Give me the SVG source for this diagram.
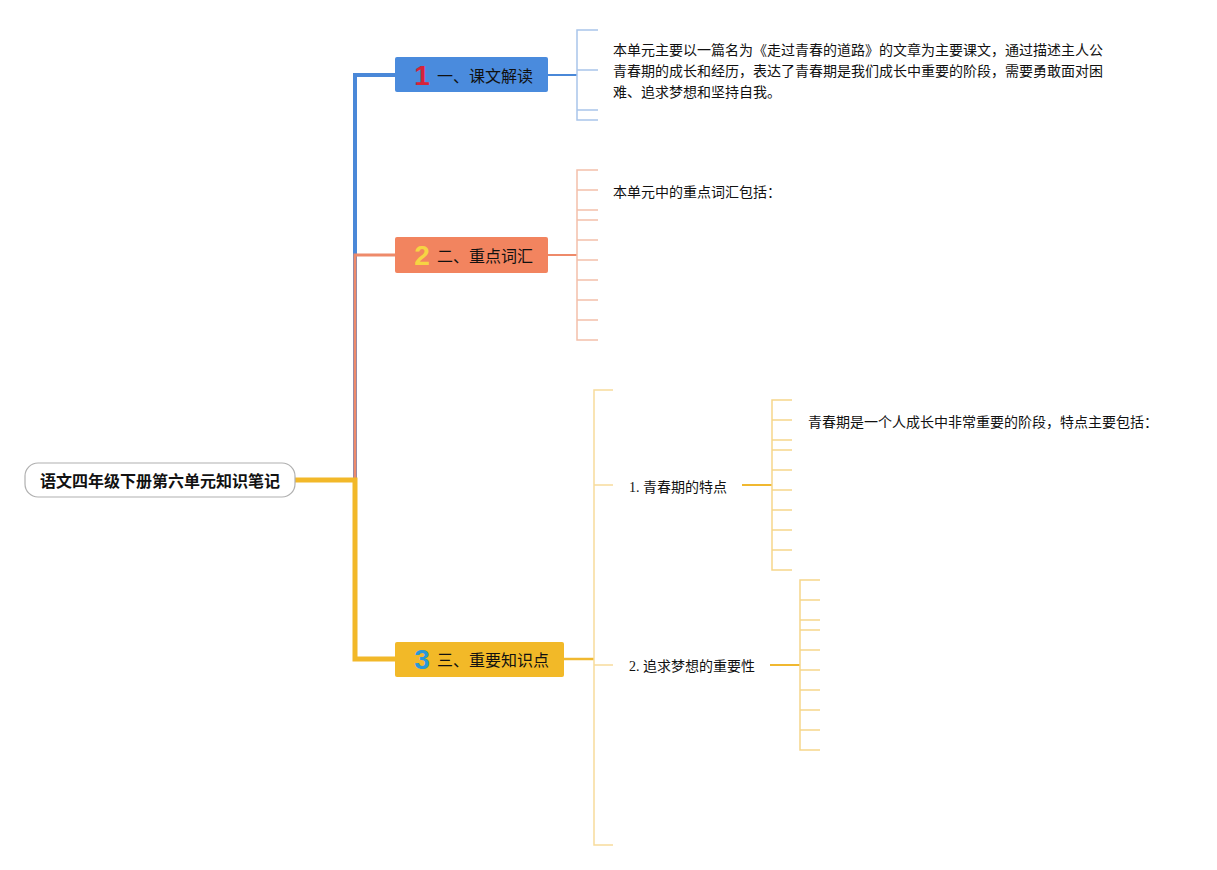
<svg xmlns="http://www.w3.org/2000/svg" width="1217" height="870" viewBox="0 0 1217 870">
<style>
.bg{fill:#ffffff}
.t{font-family:"Liberation Serif","Noto Sans CJK SC",serif;font-size:14px;fill:#111}
.nt{font-family:"Noto Sans CJK SC",sans-serif;font-size:16px;fill:#111;dominant-baseline:central}
.num{font-family:"Liberation Sans","DejaVu Sans",sans-serif;font-weight:bold;font-size:28px;text-anchor:middle;dominant-baseline:central}
.root{font-family:"Noto Sans CJK SC",sans-serif;font-weight:bold;font-size:16px;fill:#111;text-anchor:middle;dominant-baseline:central}
.br{fill:none;stroke-width:1.5}
</style>
<rect class="bg" x="0" y="0" width="1217" height="870"/>
<g id="connectors" fill="none">
  <path d="M355,480 V75 H395" stroke="#4A88D8" stroke-width="4"/>
  <path d="M355,480 V255 H395" stroke="#EE8A6A" stroke-width="3"/>
  <path d="M295,480 H355 V659 H395" stroke="#F2B829" stroke-width="5"/>
  <path d="M548,75 H577" stroke="#4A88D8" stroke-width="2"/>
  <path d="M548,255 H577" stroke="#EE8A6A" stroke-width="2"/>
  <path d="M564,659 H594" stroke="#F0B830" stroke-width="2.5"/>
  <path class="br" stroke="#A9C5EA" d="M598,30 H577 V120 H598 M577,70 H598 M577,110 H598"/>
  <path class="br" stroke="#F4C0AA" d="M598,170 H577 V340 H598 M577,190 H598 M577,210 H598 M577,220 H598 M577,240 H598 M577,260 H598 M577,280 H598 M577,300 H598 M577,320 H598"/>
  <path class="br" stroke="#F8DC9C" d="M613,390 H594 V845 H613 M594,485 H613 M594,665 H613"/>
  <path d="M742,485 H772" stroke="#F0B830" stroke-width="2"/>
  <path d="M770,665 H800" stroke="#F0B830" stroke-width="2"/>
  <path class="br" stroke="#F6D68A" d="M792,400 H772 V570 H792 M772,420 H792 M772,440 H792 M772,450 H792 M772,470 H792 M772,490 H792 M772,510 H792 M772,530 H792 M772,550 H792"/>
  <path class="br" stroke="#F6D68A" d="M820,580 H800 V750 H820 M800,600 H820 M800,620 H820 M800,630 H820 M800,650 H820 M800,670 H820 M800,690 H820 M800,710 H820 M800,730 H820"/>
</g>
<g id="root">
  <rect x="25" y="463" width="270" height="34" rx="13" fill="#fff" stroke="#b0b0b0" stroke-width="1.2"/>
  <text class="root" x="160" y="480">语文四年级下册第六单元知识笔记</text>
</g>
<g id="topic1">
  <rect x="395" y="57" width="153" height="35" rx="2" fill="#4A8BDD"/>
  <text class="num" x="422" y="75" fill="#D62339">1</text>
  <text class="nt" x="437" y="75">一、课文解读</text>
</g>
<g id="topic2">
  <rect x="395" y="237" width="153" height="36" rx="2" fill="#F2845F"/>
  <text class="num" x="422" y="255" fill="#F6D443">2</text>
  <text class="nt" x="437" y="255">二、重点词汇</text>
</g>
<g id="topic3">
  <rect x="395" y="642" width="169" height="35" rx="2" fill="#F2B928"/>
  <text class="num" x="422" y="659" fill="#2A98D8">3</text>
  <text class="nt" x="437" y="659">三、重要知识点</text>
</g>
<g id="leaf1">
  <text class="t" x="613" y="55">本单元主要以一篇名为《走过青春的道路》的文章为主要课文，通过描述主人公</text>
  <text class="t" x="613" y="76">青春期的成长和经历，表达了青春期是我们成长中重要的阶段，需要勇敢面对困</text>
  <text class="t" x="613" y="97">难、追求梦想和坚持自我。</text>
</g>
<g id="leaf2">
  <text class="t" x="613" y="197">本单元中的重点词汇包括：</text>
</g>
<g id="sub1">
  <text class="t" x="629" y="492">1. 青春期的特点</text>
</g>
<g id="sub1leaf">
  <text class="t" x="808" y="427">青春期是一个人成长中非常重要的阶段，特点主要包括：</text>
</g>
<g id="sub2">
  <text class="t" x="629" y="671">2. 追求梦想的重要性</text>
</g>
</svg>
